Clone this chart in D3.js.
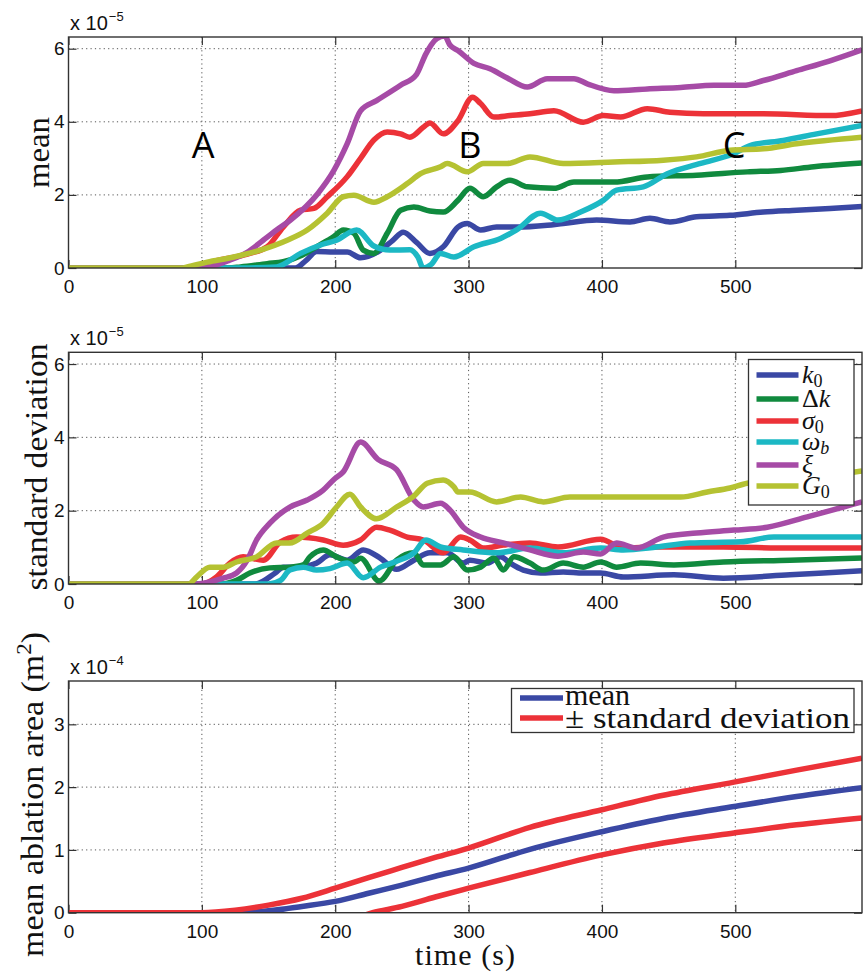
<!DOCTYPE html>
<html lang="en">
<head>
<meta charset="UTF-8">
<title>ablation sensitivity</title>
<script src="https://cdn.jsdelivr.net/npm/d3@7"></script>
<style>
  body { margin: 0; background: #fff; }
  .tick text { font-family: "Liberation Sans", Arial, sans-serif; font-size: 19px; fill: #111; }
  .tick line { stroke: #333; stroke-width: 1.2; }
  .grid line { stroke: #555; stroke-width: 1; stroke-dasharray: 1.2, 3.2; }
  .lab { font-family: "Liberation Serif", "Times New Roman", serif; fill: #111; }
</style>
</head>
<body>
<script>
    // time axis (s)
    const xTicks = [0, 100, 200, 300, 400, 500]
    const seriesNames = ['k0', 'dk', 'sigma0', 'omegab', 'xi', 'G0']
    const seriesColors = ['#3a48a4', '#108a3e', '#ec3238', '#1cb8c4', '#a64ba6', '#b5c232']

    // mean of sensitivity (x 1e-5), [t, value]
    const meanK0 = [[0,0],[170,0],[178,0.2],[186,0.45],[199,0.44],[209,0.44],[219,0.28],[234,0.49],[243,0.75],[251,0.98],[261,0.7],[271,0.4],[281,0.58],[292,1.12],[299,1.22],[309,1.04],[321,1.12],[336,1.12],[359,1.17],[371,1.22],[396,1.31],[421,1.26],[436,1.36],[451,1.26],[471,1.4],[496,1.44],[521,1.53],[546,1.58],[571,1.63],[595,1.68]]
    const meanDk = [[0,0],[120,0],[129,0.03],[149,0.12],[161,0.17],[175,0.35],[186,0.58],[199,0.86],[206,1.04],[214,0.95],[221,0.49],[229,0.4],[239,0.95],[249,1.58],[259,1.67],[271,1.56],[281,1.53],[292,1.85],[301,2.18],[311,1.95],[321,2.22],[331,2.4],[344,2.22],[364,2.18],[379,2.35],[409,2.35],[434,2.49],[471,2.54],[509,2.63],[534,2.67],[559,2.77],[595,2.87]]
    const meanS0 = [[0,0],[95,0],[111,0.2],[125,0.3],[136,0.4],[149,0.58],[161,1.12],[174,1.58],[184,1.63],[194,1.95],[209,2.5],[219,3.0],[229,3.5],[239,3.72],[249,3.67],[256,3.58],[266,3.85],[271,3.97],[281,3.67],[292,4.03],[303,4.67],[309,4.5],[319,4.13],[331,4.17],[346,4.22],[364,4.3],[386,3.99],[401,4.17],[414,4.13],[434,4.36],[451,4.26],[476,4.22],[521,4.22],[571,4.17],[595,4.3]]
    const meanWb = [[0,0],[130,0],[156,0.03],[174,0.4],[189,0.63],[201,0.76],[216,1.04],[229,0.6],[241,0.49],[256,0.5],[262,0.3],[266,0],[272,0.1],[279,0.4],[289,0.3],[304,0.58],[324,0.81],[336,1.04],[354,1.5],[367,1.31],[384,1.53],[401,1.85],[411,2.13],[431,2.22],[449,2.58],[474,2.86],[499,3.13],[511,3.35],[536,3.49],[561,3.67],[595,3.9]]
    const meanXi = [[0,0],[95,0],[104,0.02],[120,0.2],[135,0.45],[146,0.76],[156,1.04],[166,1.3],[187,2.04],[199,2.67],[209,3.4],[219,4.3],[231,4.58],[249,5.0],[261,5.3],[268,5.86],[276,6.27],[282,6.35],[286,6.1],[292,5.95],[304,5.6],[316,5.45],[329,5.2],[344,4.95],[359,5.18],[379,5.18],[389,5.04],[409,4.85],[434,4.9],[459,4.94],[484,5.0],[506,5.0],[521,5.13],[546,5.4],[571,5.67],[595,5.97]]
    const meanG0 = [[0,0],[85,0],[89,0.03],[104,0.16],[124,0.3],[144,0.49],[164,0.76],[179,1.04],[194,1.5],[206,1.95],[214,1.99],[229,1.8],[239,1.95],[254,2.31],[264,2.58],[279,2.77],[284,2.86],[299,2.63],[311,2.86],[329,2.86],[346,3.04],[371,2.86],[409,2.9],[446,2.95],[471,3.04],[496,3.22],[521,3.26],[546,3.4],[595,3.58]]

    // standard deviation of sensitivity (x 1e-5)
    const stdK0 = [[0,0],[140,0],[155,0.3],[161,0.46],[171,0.46],[186,0.57],[196,0.8],[209,0.65],[221,0.93],[234,0.7],[246,0.4],[259,0.65],[271,0.85],[284,0.85],[296,0.57],[301,0.65],[314,0.57],[324,0.74],[331,0.57],[341,0.38],[354,0.3],[371,0.33],[386,0.3],[399,0.3],[416,0.19],[454,0.25],[491,0.16],[541,0.25],[566,0.3],[595,0.36]]
    const stdDk = [[0,0],[115,0],[126,0.1],[136,0.3],[151,0.44],[166,0.46],[176,0.52],[181,0.74],[191,0.93],[201,0.74],[214,0.6],[219,0.7],[233,0.08],[246,0.65],[259,0.85],[266,0.52],[279,0.52],[289,0.74],[299,0.38],[309,0.46],[319,0.71],[326,0.38],[334,0.74],[346,0.57],[356,0.38],[371,0.57],[386,0.46],[399,0.6],[411,0.46],[429,0.57],[454,0.52],[491,0.6],[541,0.65],[595,0.71]]
    const stdS0 = [[0,0],[100,0],[111,0.19],[121,0.57],[131,0.74],[146,0.65],[159,1.15],[171,1.28],[191,1.2],[206,1.06],[219,1.2],[231,1.55],[241,1.47],[254,1.28],[266,1.2],[281,0.85],[294,1.28],[301,1.2],[311,0.98],[326,1.06],[346,1.12],[367,1.01],[399,1.22],[416,0.98],[441,1.01],[491,1.01],[541,0.98],[595,0.98]]
    const stdWb = [[0,0],[150,0],[159,0.1],[166,0.38],[176,0.46],[186,0.38],[196,0.42],[209,0.57],[221,0.17],[234,0.46],[246,0.62],[259,0.85],[268,1.2],[279,1.01],[296,0.93],[321,0.85],[346,0.98],[371,0.85],[399,0.98],[416,0.93],[441,1.01],[466,1.12],[504,1.15],[529,1.28],[595,1.28]]
    const stdXi = [[0,0],[96,0],[116,0.16],[126,0.3],[134,0.65],[141,1.2],[151,1.66],[166,2.1],[179,2.29],[191,2.56],[199,2.85],[206,3.06],[219,3.87],[232,3.4],[246,3.12],[259,2.29],[266,2.1],[279,2.2],[286,2.02],[296,1.55],[309,1.28],[326,1.12],[346,0.93],[367,0.76],[386,0.87],[399,0.82],[411,1.12],[426,0.98],[446,1.28],[471,1.39],[499,1.47],[524,1.55],[554,1.83],[581,2.1],[595,2.24]]
    const stdG0 = [[0,0],[90,0],[96,0.19],[106,0.46],[116,0.46],[126,0.6],[141,0.74],[156,1.12],[166,1.12],[179,1.39],[191,1.66],[201,2.1],[211,2.45],[219,2.1],[231,1.78],[246,2.1],[259,2.4],[269,2.75],[281,2.84],[289,2.65],[292,2.51],[301,2.51],[321,2.24],[339,2.37],[356,2.24],[376,2.37],[399,2.37],[429,2.37],[459,2.37],[479,2.51],[496,2.62],[509,2.75],[540,2.85],[570,2.95],[595,3.08]]

    // mean ablation area (x 1e-4 m^2)
    const areaMean = [[0,0],[125,0],[150,0.03],[175,0.1],[200,0.18],[225,0.31],[250,0.44],[275,0.58],[300,0.71],[346,1.01],[400,1.29],[446,1.5],[499,1.69],[546,1.85],[595,1.99]]
    const areaUpper = [[0,0],[100,0],[125,0.04],[150,0.12],[175,0.23],[200,0.39],[225,0.56],[250,0.72],[275,0.88],[300,1.03],[346,1.36],[400,1.64],[446,1.87],[499,2.08],[546,2.27],[595,2.46]]
    const areaLower = [[0,0],[100,0],[125,-0.12],[150,-0.2],[200,-0.18],[228,0],[250,0.1],[275,0.25],[300,0.39],[346,0.64],[400,0.92],[446,1.11],[499,1.27],[546,1.4],[595,1.51]]

    const markLetters = [['A', 101], ['B', 301], ['C', 499]]

    const [width, height] = [867, 975]
    const svg = d3.select('body').append('svg')
        .attr('width', width)
        .attr('height', height)

    const x = d3.scaleLinear().domain([0, 595]).range([68.5, 862])
    const fmt = d3.format('d')

    const line = (y) => d3.line()
        .x(d => x(d[0]))
        .y(d => y(d[1]))
        .curve(d3.curveMonotoneX)

    // one panel: box, grid, ticks, lines
    const panel = (id, top, bottom, yMax, yTicks, exp, series, colors) => {
        const y = d3.scaleLinear().domain([0, yMax]).range([bottom, top])
        const g = svg.append('g')
        const [x0, x1] = x.range()

        svg.append('clipPath').attr('id', id)
            .append('rect').attr('x', x0).attr('y', top)
            .attr('width', x1 - x0).attr('height', bottom - top)

        // dotted grid
        const grid = g.append('g').attr('class', 'grid')
        grid.selectAll('.gx').data(xTicks.filter(d => d > 0)).enter()
            .append('line')
            .attr('x1', d => x(d)).attr('x2', d => x(d))
            .attr('y1', top).attr('y2', bottom)
        grid.selectAll('.gy').data(yTicks.filter(d => d > 0)).enter()
            .append('line')
            .attr('x1', x0).attr('x2', x1)
            .attr('y1', d => y(d)).attr('y2', d => y(d))

        // axes, ticks pointing inward
        g.append('g').attr('transform', `translate(0,${bottom})`)
            .call(d3.axisBottom(x).tickValues(xTicks).tickFormat(fmt).tickSize(-8).tickPadding(12))
        g.append('g').attr('transform', `translate(0,${top})`)
            .call(d3.axisTop(x).tickValues(xTicks).tickSize(-8).tickFormat(''))
        g.append('g').attr('transform', `translate(${x0},0)`)
            .call(d3.axisLeft(y).tickValues(yTicks).tickFormat(fmt).tickSize(-8).tickPadding(4))
        g.append('g').attr('transform', `translate(${x1},0)`)
            .call(d3.axisRight(y).tickValues(yTicks).tickSize(-8).tickFormat(''))
        g.selectAll('.domain').remove()

        // curves
        g.append('g').attr('clip-path', `url(#${id})`)
            .selectAll('path.series')
            .data(series)
            .enter()
            .append('path')
            .attr('class', 'series')
            .attr('fill', 'none')
            .attr('stroke', (d, i) => colors[i])
            .attr('stroke-width', 5.5)
            .attr('stroke-linejoin', 'round')
            .attr('d', d => line(y)(d))

        g.append('rect')
            .attr('x', x0).attr('y', top)
            .attr('width', x1 - x0).attr('height', bottom - top)
            .attr('fill', 'none').attr('stroke', '#333').attr('stroke-width', 1.4)

        // exponent label
        const t = g.append('text')
            .attr('x', 70).attr('y', top - 7)
            .style('font-family', '"Liberation Sans", Arial, sans-serif')
            .style('font-size', '20px').style('fill', '#111')
        t.append('tspan').text('x 10')
        t.append('tspan').attr('dy', -9).attr('dx', 1).style('font-size', '13px').text(exp)
        return y
    }

    const yTop = panel('c1', 37, 268, 6.32, [0, 2, 4, 6], '\u22125',
        [meanK0, meanDk, meanS0, meanWb, meanXi, meanG0], seriesColors)
    panel('c2', 352.3, 584, 6.32, [0, 2, 4, 6], '\u22125',
        [stdK0, stdDk, stdS0, stdWb, stdXi, stdG0], seriesColors)
    panel('c3', 681, 912.7, 3.69, [0, 1, 2, 3], '\u22124',
        [areaMean, areaUpper, areaLower], ['#3a48a4', '#ec3238', '#ec3238'])

    // letters A, B, C
    svg.selectAll('text.mark').data(markLetters).enter()
        .append('text')
        .attr('class', 'mark')
        .attr('x', d => x(d[1]))
        .attr('y', yTop(3.02))
        .attr('text-anchor', 'middle')
        .style('font-family', '"Open Sans", "Liberation Sans", sans-serif')
        .style('font-size', '36px')
        .style('fill', '#000')
        .text(d => d[0])

    // axis titles
    const ylab = (txt, cx, cy, len) => svg.append('text')
        .attr('class', 'lab')
        .attr('transform', `translate(${cx},${cy}) rotate(-90)`)
        .attr('text-anchor', 'middle')
        .attr('textLength', len)
        .attr('lengthAdjust', 'spacingAndGlyphs')
        .style('font-size', '32px')
        .text(txt)
    ylab('mean', 49, 152.5, 71)
    ylab('standard deviation', 47, 467, 247)
    const yl3 = svg.append('text')
        .attr('class', 'lab')
        .attr('transform', 'translate(43,794.5) rotate(-90)')
        .attr('text-anchor', 'middle')
        .attr('textLength', 325)
        .attr('lengthAdjust', 'spacingAndGlyphs')
        .style('font-size', '31px')
    yl3.append('tspan').text('mean ablation area (m')
    yl3.append('tspan').attr('dy', -12).style('font-size', '21px').text('2')
    yl3.append('tspan').attr('dy', 12).text(')')

    svg.append('text')
        .attr('class', 'lab')
        .attr('x', 465).attr('y', 965)
        .attr('text-anchor', 'middle')
        .attr('textLength', 100)
        .style('font-size', '30px')
        .text('time (s)')

    // legend, std panel
    const leg1 = svg.append('g')
    leg1.append('rect').attr('x', 748.5).attr('y', 359.5).attr('width', 105.5).attr('height', 145.5)
        .attr('fill', '#fff').attr('stroke', '#333').attr('stroke-width', 1.3)
    const legLabels = [
        [['k', 'i'], ['0', 's']],
        [['\u0394', 'n'], ['k', 'i']],
        [['\u03c3', 'i'], ['0', 's']],
        [['\u03c9', 'i'], ['b', 'si']],
        [['\u03be', 'i']],
        [['G', 'i'], ['0', 's']]
    ]
    const legY = [375, 399, 421, 442, 465, 486]
    legLabels.forEach((parts, i) => {
        leg1.append('line')
            .attr('x1', 756.5).attr('x2', 798.5)
            .attr('y1', legY[i]).attr('y2', legY[i])
            .attr('stroke', seriesColors[i]).attr('stroke-width', 5.5)
        const t = leg1.append('text').attr('class', 'lab')
            .attr('x', 802).attr('y', legY[i] + 8)
            .style('font-size', '26px')
        parts.forEach(p => {
            const s = t.append('tspan').text(p[0])
            if (p[1].includes('i')) s.style('font-style', 'italic')
            if (p[1].includes('s')) s.attr('dy', 4).style('font-size', '18px')
        })
    })

    // legend, area panel
    const leg2 = svg.append('g')
    leg2.append('rect').attr('x', 511.5).attr('y', 688.5).attr('width', 342.5).attr('height', 44)
        .attr('fill', '#fff').attr('stroke', '#333').attr('stroke-width', 1.3)
    const leg2Items = [['mean', '#3a48a4', 698, 705, 0], ['\u00b1 standard deviation', '#ec3238', 718, 728, 285]]
    leg2Items.forEach(d => {
        leg2.append('line')
            .attr('x1', 520).attr('x2', 563)
            .attr('y1', d[2]).attr('y2', d[2])
            .attr('stroke', d[1]).attr('stroke-width', 5.5)
        const t = leg2.append('text').attr('class', 'lab')
            .attr('x', 565).attr('y', d[3])
            .style('font-size', '30px')
            .text(d[0])
        if (d[4]) t.attr('textLength', d[4]).attr('lengthAdjust', 'spacingAndGlyphs')
    })
</script>
</body>
</html>
